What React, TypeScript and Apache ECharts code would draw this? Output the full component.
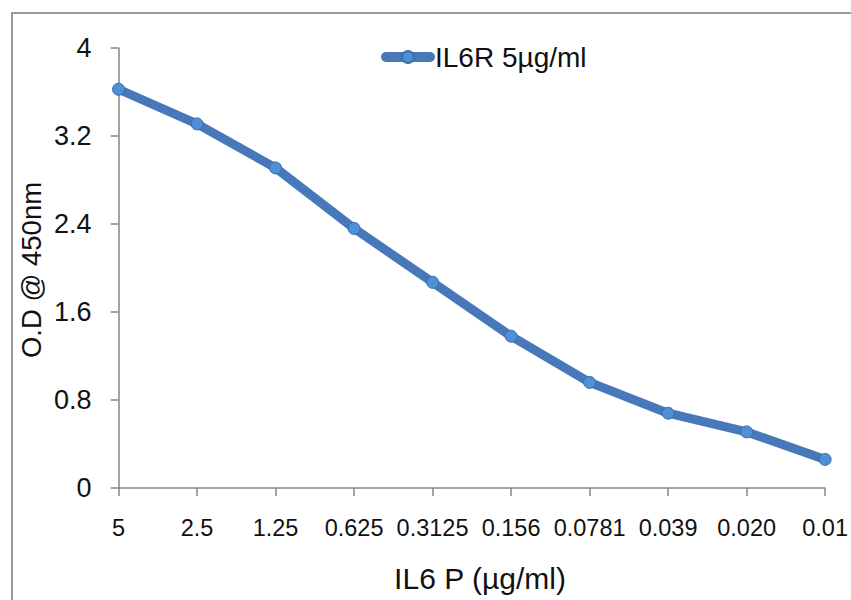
import React, { useEffect, useRef } from "react";
import * as echarts from "echarts";

const categories = ["5", "2.5", "1.25", "0.625", "0.3125", "0.156", "0.0781", "0.039", "0.020", "0.01"];
const od450 = [3.625, 3.31, 2.91, 2.36, 1.87, 1.38, 0.96, 0.68, 0.51, 0.26];
const seriesName = "IL6R 5µg/ml";
const xTitle = "IL6 P (µg/ml)";
const yTitle = "O.D @ 450nm";

const SANS = "'Liberation Sans', Arial, sans-serif";
const AXIS_COLOR = "#868686";

export default function App() {
  const ref = useRef<HTMLDivElement>(null);
  useEffect(() => {
    if (!ref.current) return;
    const chart = echarts.init(ref.current, undefined, { renderer: "svg" });
    chart.setOption({
      animation: false,
      backgroundColor: "#ffffff",
      grid: { left: 118.5, right: 17, top: 48, bottom: 112, containLabel: false },
      legend: {
        data: [seriesName],
        left: 381,
        top: 43,
        padding: 0,
        itemWidth: 44,
        itemHeight: 15,
        lineStyle: { width: 10 },
        textStyle: { fontFamily: SANS, fontSize: 28, color: "#111" },
      },
      xAxis: {
        type: "category",
        data: categories,
        boundaryGap: false,
        axisLine: { show: true, lineStyle: { color: AXIS_COLOR, width: 1.5 } },
        axisTick: { show: true, alignWithLabel: true, length: 8, lineStyle: { color: AXIS_COLOR, width: 1.5 } },
        axisLabel: { interval: 0, margin: 28, fontFamily: SANS, fontSize: 23.5, color: "#111" },
        splitLine: { show: false },
      },
      yAxis: {
        type: "value",
        min: 0,
        max: 4,
        interval: 0.8,
        axisLine: { show: true, lineStyle: { color: AXIS_COLOR, width: 1.5 } },
        axisTick: { show: true, length: 8, lineStyle: { color: AXIS_COLOR, width: 1.5 } },
        axisLabel: {
          margin: 27,
          fontFamily: SANS,
          fontSize: 27,
          color: "#111",
          formatter: (v: number) => String(+v.toFixed(1)),
        },
        splitLine: { show: false },
      },
      graphic: [
        {
          type: "rect",
          shape: { x: 12, y: 13, width: 900, height: 700 },
          style: { fill: "none", stroke: "#9a9a9a", lineWidth: 2 },
          silent: true,
        },
        {
          type: "text",
          x: 480,
          y: 578,
          style: {
            text: xTitle,
            fontFamily: SANS,
            fontSize: 30,
            fill: "#111",
            align: "center",
            verticalAlign: "middle",
          },
        },
        {
          type: "text",
          x: 31,
          y: 270,
          rotation: Math.PI / 2,
          style: {
            text: yTitle,
            fontFamily: SANS,
            fontSize: 27.5,
            fill: "#111",
            align: "center",
            verticalAlign: "middle",
          },
        },
      ],
      series: [
        {
          name: seriesName,
          type: "line",
          data: od450,
          symbol: "circle",
          symbolSize: 12,
          showSymbol: true,
          lineStyle: { color: "#4678BA", width: 9, cap: "round", join: "round" },
          itemStyle: { color: "#4F8FD6", borderColor: "#3D6EAD", borderWidth: 1 },
        },
      ],
    });
    return () => chart.dispose();
  }, []);
  return (
    <div
      ref={ref}
      style={{ position: "fixed", left: 0, top: 0, width: 851, height: 600, background: "#fff" }}
    />
  );
}
